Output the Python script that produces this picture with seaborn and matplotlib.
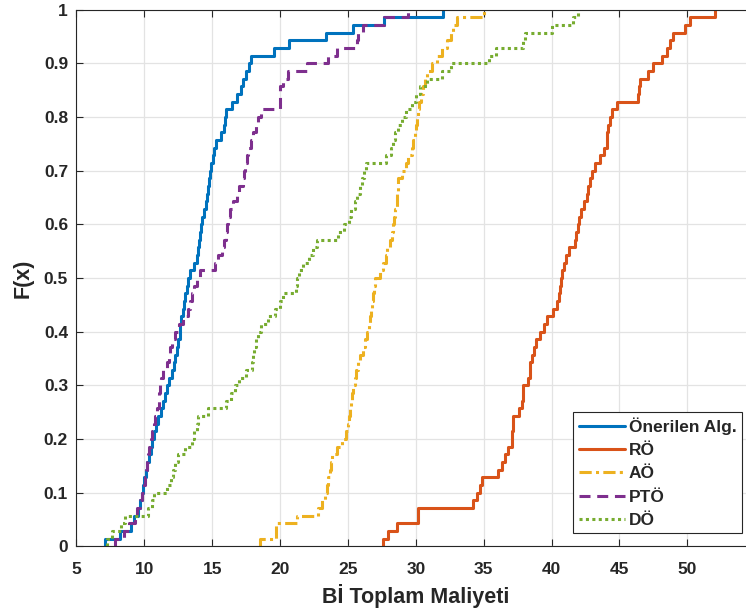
import numpy as np
import pandas as pd
import matplotlib
matplotlib.use("Agg")
import matplotlib.pyplot as plt
from matplotlib.ticker import FuncFormatter
import seaborn as sns

# Sorted samples of total cost for each method
onerilen = [7.1, 8.2, 9.0, 9.25, 9.56, 9.68, 9.8, 9.9, 10.0, 10.1,
            10.2, 10.33, 10.47, 10.6, 10.72, 10.86, 11.0, 11.2, 11.4, 11.55,
            11.67, 11.85, 12.05, 12.18, 12.3, 12.42, 12.52, 12.6, 12.66, 12.73,
            12.82, 12.93, 13.0, 13.12, 13.25, 13.4, 13.65, 13.85, 13.93, 14.0,
            14.08, 14.16, 14.28, 14.42, 14.53, 14.6, 14.67, 14.75, 14.85, 14.95,
            15.06, 15.15, 15.27, 15.65, 15.87, 15.93, 16.0, 16.45, 16.8, 17.15,
            17.3, 17.49, 17.7, 17.86, 19.56, 20.66, 23.39, 25.4, 27.66, 31.98]

ro = [27.61, 27.98, 28.6, 30.19, 30.19, 34.19, 34.49, 34.7, 34.86, 36.08,
      36.33, 36.57, 36.82, 37.07, 37.12, 37.16, 37.19, 37.6, 37.82, 37.88,
      37.92, 38.3, 38.38, 38.45, 38.55, 38.7, 38.85, 39.15, 39.45, 39.64,
      40.1, 40.4, 40.55, 40.62, 40.72, 40.8, 40.95, 41.1, 41.3, 41.7,
      41.8, 41.93, 42.05, 42.2, 42.4, 42.58, 42.7, 42.83, 43.0, 43.2,
      43.6, 43.9, 44.06, 44.1, 44.18, 44.3, 44.43, 44.8, 46.39, 46.45,
      46.52, 47.13, 47.5, 48.12, 48.5, 48.73, 48.97, 49.83, 50.2, 52.04]

ao = [18.52, 19.7, 19.72, 21.23, 22.82, 23.1, 23.31, 23.45, 23.56, 23.65,
      23.75, 23.85, 24.2, 24.6, 24.88, 25.0, 25.08, 25.17, 25.25, 25.33,
      25.4, 25.5, 25.6, 25.75, 25.9, 26.08, 26.26, 26.42, 26.52, 26.6,
      26.68, 26.75, 26.85, 26.92, 27.0, 27.4, 27.6, 27.8, 27.9, 28.1,
      28.23, 28.3, 28.4, 28.5, 28.6, 28.63, 28.67, 28.71, 29.0, 29.3,
      29.45, 29.7, 29.8, 29.92, 30.0, 30.07, 30.15, 30.26, 30.4, 30.56,
      30.66, 30.8, 31.17, 31.55, 31.91, 32.28, 32.6, 32.77, 33.0, 35.03]

pto = [7.84, 8.5, 8.9, 9.3, 9.47, 9.65, 9.82, 9.95, 10.07, 10.13,
       10.2, 10.27, 10.35, 10.47, 10.58, 10.7, 10.8, 10.95, 11.06, 11.12,
       11.17, 11.23, 11.35, 11.7, 11.8, 11.87, 12.05, 12.3, 12.58, 12.88,
       13.2, 13.35, 13.49, 13.7, 13.9, 14.1, 15.21, 15.45, 15.75, 15.9,
       16.0, 16.08, 16.18, 16.34, 16.5, 16.8, 17.0, 17.25, 17.35, 17.42,
       17.55, 17.65, 17.85, 18.03, 18.2, 18.4, 18.6, 19.98, 20.0, 20.02,
       20.24, 20.61, 21.96, 23.56, 24.17, 25.7, 25.74, 26.14, 27.66, 29.45]

do = [7.23, 7.6, 8.3, 8.58, 10.25, 10.55, 10.7, 11.7, 12.0, 12.15,
      12.3, 12.52, 13.0, 13.5, 13.65, 13.86, 13.98, 14.72, 16.05, 16.4,
      16.7, 17.0, 17.5, 17.9, 18.0, 18.08, 18.2, 18.36, 18.6, 19.1,
      19.65, 19.98, 20.24, 21.2, 21.25, 21.4, 21.7, 22.15, 22.4, 22.75,
      24.3, 24.7, 25.05, 25.25, 25.5, 25.7, 25.9, 26.05, 26.17, 26.35,
      27.8, 28.2, 28.35, 28.48, 28.68, 29.0, 29.3, 29.75, 30.05, 30.3,
      30.8, 31.9, 32.6, 35.4, 35.9, 37.9, 38.05, 40.0, 41.6, 41.97]

labels = ["Önerilen Alg.", "RÖ", "AÖ", "PTÖ", "DÖ"]
colors = ["#0072BD", "#D95319", "#EDB120", "#7E2F8E", "#77AC30"]
styles = ["-", "-", (0, (4, 1.4, 1, 1.4)), (0, (3.6, 2.2)), (0, (1, 1.1))]

df = pd.DataFrame({
    "maliyet": onerilen + ro + ao + pto + do,
    "yontem": sum([[lab] * n for lab, n in zip(
        labels, [len(onerilen), len(ro), len(ao), len(pto), len(do)])], []),
})

sns.set_style("ticks")
plt.rcParams["font.family"] = ["Liberation Sans", "DejaVu Sans"]
plt.rcParams["font.weight"] = "bold"

ink = "#262626"

fig = plt.figure(figsize=(7.46, 6.15), dpi=100)
ax = fig.add_axes([0.1024, 0.1115, 0.9099, 0.8727])
ax.set_axisbelow(True)
ax.grid(True, color="#e3e3e3", lw=0.9)

for lab, col, ls in zip(labels, colors, styles):
    sub = df[df["yontem"] == lab]
    sns.ecdfplot(data=sub, x="maliyet", ax=ax, color=col, lw=2.2,
                 linestyle=ls, label=lab)
    line = ax.lines[-1]
    xd = np.asarray(line.get_xdata(), dtype=float).copy()
    xd[0] = xd[1]  # start the staircase at the smallest sample
    line.set_xdata(xd)

ax.set_xlim(5, 55)
ax.set_ylim(0, 1)
ax.set_xticks(np.arange(5, 55, 5))
ax.set_yticks(np.round(np.arange(0, 1.01, 0.1), 1))
ax.yaxis.set_major_formatter(FuncFormatter(lambda v, p: f"{v:g}"))
ax.tick_params(direction="in", top=True, right=True, length=5, width=0.8,
               labelsize=12.5, colors=ink, labelcolor=ink)
ax.tick_params(axis="x", pad=11)
ax.tick_params(axis="y", pad=6)
for t in ax.get_xticklabels() + ax.get_yticklabels():
    t.set_fontweight("bold")
for sp in ax.spines.values():
    sp.set_color(ink)
    sp.set_linewidth(0.8)

ax.set_xlabel("Bİ Toplam Maliyeti", fontsize=15.5, fontweight="bold",
              color=ink, labelpad=5)
ax.set_ylabel("F(x)", fontsize=15.5, fontweight="bold", color=ink, labelpad=7)

ax.legend(loc="lower right", bbox_to_anchor=(742 / 746, 0.1328),
          bbox_transform=fig.transFigure, borderaxespad=0,
          frameon=True, fancybox=False, edgecolor=ink, framealpha=1,
          prop={"weight": "bold", "size": 12.5}, handlelength=2.65,
          handletextpad=0.25, labelspacing=0.47, borderpad=0.3)
ax.get_legend().get_frame().set_linewidth(0.8)

fig.savefig("out.png", dpi=100)
